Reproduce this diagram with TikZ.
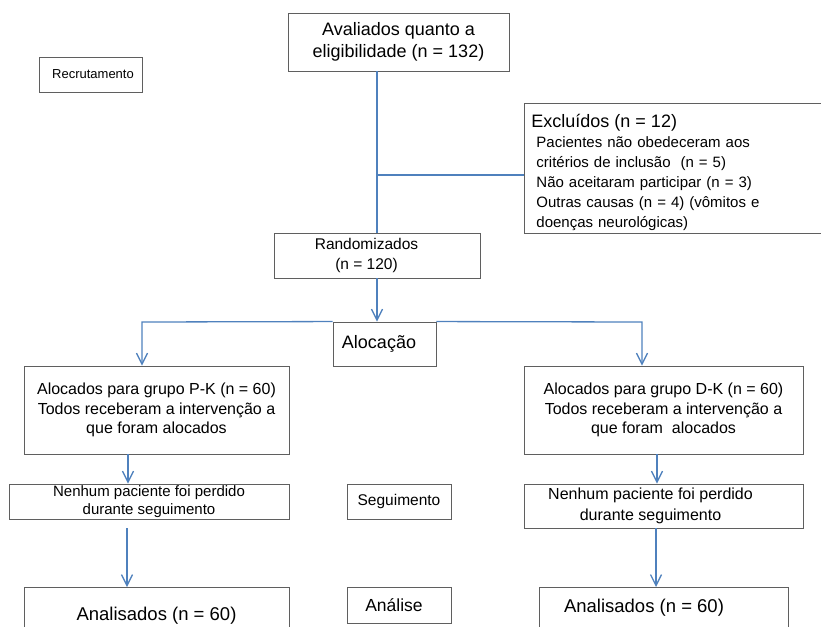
\documentclass[tikz,border=0pt]{standalone}
\usepackage{fontspec}
\setmainfont{Liberation Sans}
\usetikzlibrary{arrows.meta,positioning,calc}
\definecolor{flowblue}{RGB}{79,129,189}
\definecolor{boxgray}{RGB}{95,95,95}

\begin{document}
\begin{tikzpicture}[x=1pt,y=-1pt,
      box/.style={draw=boxgray,line width=0.9pt,inner sep=0pt,align=center,text=black},
      lowbox/.style={box,anchor=north,text height=14pt,text depth=40pt},
      flow/.style={draw=flowblue,line width=1.3pt},
      flowarr/.style={flow,-{Straight Barb[length=11pt,width=11pt]}}]
  \useasboundingbox (0,0) rectangle (821,626);
  \node[box,minimum width=103pt,minimum height=35pt,font=\fontsize{13}{15}\selectfont] (recr) at (90.5,74.5) {\hspace*{5pt}Recrutamento};
  \node[box,minimum width=221pt,minimum height=58pt,font=\fontsize{18}{22.5}\selectfont] (eleg) at (398.5,42) {Avaliados quanto a\\eligibilidade (n = 132)};
  \node[box,anchor=north west,inner xsep=7pt,text width=306pt,text height=24.5pt,text depth=105.5pt,align=left,font=\fontsize{15}{20}\selectfont] (excl) at (524,103)
    {{\fontsize{18}{20}\selectfont Excluídos (n = 12)}\\
     \hspace*{5pt}Pacientes não obedeceram aos\\
     \hspace*{5pt}critérios de inclusão \ (n = 5)\\
     \hspace*{5pt}Não aceitaram participar (n = 3)\\
     \hspace*{5pt}Outras causas (n = 4) (vômitos e\\
     \hspace*{5pt}doenças neurológicas)};
  \node[box,minimum width=206pt,minimum height=45pt,font=\fontsize{15.5}{20}\selectfont] (rand) at (377,255.5) {Randomizados\hspace*{21pt}\\(n = 120)\hspace*{21pt}};
  \node[box,minimum width=103pt,minimum height=44pt,font=\fontsize{18}{22}\selectfont] (aloc) at (384.5,344) {Alocação\hspace*{11pt}};
  \node[box,minimum width=265pt,minimum height=88pt,font=\fontsize{16}{19.5}\selectfont] (pk) at (156.5,410) {Alocados para grupo P-K (n = 60)\\Todos receberam a intervenção a\\que foram alocados};
  \node[box,minimum width=279pt,minimum height=88pt,font=\fontsize{16}{19.5}\selectfont] (dk) at (663.5,410) {Alocados para grupo D-K (n = 60)\\Todos receberam a intervenção a\\que foram \ alocados};
  \node[box,minimum width=280pt,minimum height=35pt,font=\fontsize{15}{17.5}\selectfont] (nl) at (149,501.5) {Nenhum paciente foi perdido\\durante seguimento};
  \node[box,minimum width=104pt,minimum height=35pt,font=\fontsize{15.5}{18}\selectfont] (seg) at (399,501.5) {Seguimento};
  \node[box,minimum width=279pt,minimum height=44pt,font=\fontsize{16}{21}\selectfont] (nr) at (663.5,506) {Nenhum paciente foi perdido\hspace*{26pt}\\durante seguimento\hspace*{26pt}};
  \node[lowbox,minimum width=265pt,inner ysep=18.7pt,font=\fontsize{18.5}{22}\selectfont] (al) at (156.5,587) {Analisados (n = 60)};
  \node[box,minimum width=104pt,minimum height=36pt,font=\fontsize{17.5}{20}\selectfont] (ana) at (399,605) {Análise\hspace*{10pt}};
  \node[lowbox,minimum width=249pt,inner ysep=10.6pt,font=\fontsize{18.5}{22}\selectfont] (ar) at (663.5,587) {Analisados (n = 60)\hspace*{39pt}};
  \coordinate (split) at (377,175);
  \coordinate (lbranch) at (142,322);
  \coordinate (rbranch) at (642,322);
  \coordinate (pkout) at ([xshift=-28.5pt]pk.south);
  \coordinate (nlout) at ([xshift=-22pt,yshift=-9pt]nl.south);
  \coordinate (dkout) at ([xshift=-6.5pt]dk.south);
  \coordinate (nrout) at ([xshift=-7.5pt]nr.south);
  \draw[flow] (rand.north |- eleg.south) -- (rand.north);
  \draw[flow] (split) -- (split -| excl.west);
  \draw[flowarr] (rand.south) -- (rand.south |- aloc.north);
  \draw[flowarr] (aloc.north west) -- (lbranch) -- (lbranch |- pk.north);
  \draw[flowarr] (aloc.north east) -- (rbranch) -- (rbranch |- dk.north);
  \draw[flowarr] (pkout) -- (pkout |- nl.north);
  \draw[flowarr] (nlout) -- (nlout |- al.north);
  \draw[flowarr] (dkout) -- (dkout |- nr.north);
  \draw[flowarr] (nrout) -- (nrout |- ar.north);
\end{tikzpicture}
\end{document}
